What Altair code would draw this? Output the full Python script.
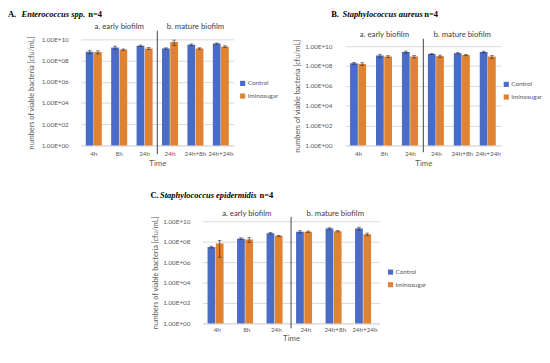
import altair as alt
import pandas as pd

categories = ["4h", "8h", "24h", "24h ", "24h+8h", "24h+24h"]
series = ["Control", "Iminosugar"]
phase_labels = ["a. early biofilm", "b. mature biofilm"]
phase_anchor = ["8h", "24h+8h"]
colors = ["#4A6BC6", "#DF8231"]

a_control = [6.8e8, 1.7e9, 2.5e9, 1.4e9, 3.2e9, 4.0e9]
a_control_sd = [2.5e8, 6e8, 4e8, 2e8, 5e8, 6e8]
a_imino = [6.3e8, 1.1e9, 1.4e9, 5.6e9, 1.4e9, 2.1e9]
a_imino_sd = [2e8, 1.5e8, 3e8, 3e9, 2e8, 4e8]

b_control = [1.9e8, 1.15e9, 2.6e9, 1.65e9, 1.95e9, 2.6e9]
b_control_sd = [4e7, 4e8, 6e8, 2e8, 3e8, 5e8]
b_imino = [1.65e8, 9.1e8, 9.1e8, 1.0e9, 1.3e9, 9.1e8]
b_imino_sd = [5e7, 2e8, 2.5e8, 2.5e8, 2e8, 3e8]

c_control = [3.0e7, 2.0e8, 6.8e8, 9.5e8, 2.0e9, 2.0e9]
c_control_sd = [6e6, 4e7, 1.3e8, 2.5e8, 3e8, 6e8]
c_imino = [6.8e7, 1.65e8, 3.8e8, 9.5e8, 1.07e9, 5.4e8]
c_imino_sd = [6.5e7, 8e7, 4e7, 1.5e8, 1.5e8, 1.6e8]

tick_values = [1, 1e2, 1e4, 1e6, 1e8, 1e10]
y_title = "numbers of viable bacteria [cfu/mL]"
x_title = "Time"

SANS = "Lato"
SERIF = "Liberation Serif"
GREY = "#595959"

LABEL_EXPR = ("'1.00E+' + (round(log(datum.value)/LN10) < 10 ? '0' : '') + "
              "round(log(datum.value)/LN10)")


def panel(ctrl, ctrl_sd, imi, imi_sd, p):
    rows = []
    for s, vals, sds in [(series[0], ctrl, ctrl_sd), (series[1], imi, imi_sd)]:
        for c, v, sd in zip(categories, vals, sds):
            rows.append({"cat": c, "series": s, "value": v, "low": v - sd,
                         "high": v + sd, "base": 1})
    df = pd.DataFrame(rows)
    W, H = p["w"], p["h"]

    xscale = alt.Scale(paddingInner=p["pi"], paddingOuter=p["po"])
    xaxis = alt.Axis(labelAngle=0, ticks=False, tickSize=0, domain=True,
                     domainColor="#d9d9d9", labelFont=SANS, labelFontSize=6.5,
                     labelColor=GREY, labelPadding=p["xlp"], titleFont=SANS,
                     titleFontSize=8, titleFontWeight="normal", titleColor=GREY,
                     titlePadding=p["xtp"], grid=False)
    yscale = alt.Scale(type="log", domain=[1, 1e10], nice=False, range=p["yr"])
    yaxis = alt.Axis(values=tick_values, labelExpr=LABEL_EXPR, grid=True,
                     gridColor="#d9d9d9", domain=False, ticks=False, tickSize=0,
                     labelFont=SANS, labelFontSize=6.5, labelColor=GREY,
                     labelPadding=p["ylp"], titleFont=SANS, titleFontSize=7.5,
                     titleFontWeight="normal", titleColor=GREY, titleX=p["ytx"],
                     titleY=(p["yr"][0] + p["yr"][1]) / 2, titleAnchor="middle",
                     titleBaseline="bottom")

    def X():
        return alt.X("cat:N", sort=categories, scale=xscale, axis=xaxis, title=x_title)

    def XO():
        return alt.XOffset("series:N", sort=series, scale=alt.Scale(paddingInner=0.06))

    def Y(f):
        return alt.Y(f, scale=yscale, axis=yaxis, title=y_title)

    base = alt.Chart(df)
    bars = base.mark_bar().encode(
        x=X(), xOffset=XO(), y=Y("value:Q"), y2="base:Q",
        color=alt.Color("series:N", scale=alt.Scale(domain=series, range=colors),
                        legend=alt.Legend(title=None, orient="none",
                                          legendX=p["lx"], legendY=p["ly"],
                                          symbolType="square", symbolSize=28,
                                          symbolStrokeWidth=0, labelFont=SANS,
                                          labelFontSize=6.5, labelColor=GREY,
                                          rowPadding=p["lrp"], labelOffset=2)))
    err = base.mark_rule(color="#333333", strokeWidth=0.8).encode(
        x=X(), xOffset=XO(), y=Y("low:Q"), y2="high:Q")
    cap_lo = base.mark_tick(color="#333333", thickness=0.8, size=4).encode(
        x=X(), xOffset=XO(), y=Y("low:Q"))
    cap_hi = base.mark_tick(color="#333333", thickness=0.8, size=4).encode(
        x=X(), xOffset=XO(), y=Y("high:Q"))

    hdr_df = pd.DataFrame({"cat": phase_anchor, "label": phase_labels})
    headers = alt.Chart(hdr_df).mark_text(font=SANS, fontSize=8, color="#404040",
                                          baseline="middle").encode(
        x=X(), y=alt.value(p["hy"]), text="label:N")

    one = pd.DataFrame({"d": [0]})
    divider = alt.Chart(one).mark_rule(color="#404040", strokeWidth=1).encode(
        x=alt.value(W / 2), y=alt.value(p["dy1"]), y2=alt.value(p["dy2"]))

    t = p["title"]
    tl = []
    for txt, xx, style in [(t[0], p["tx"][0], "normal"), (t[1], p["tx"][1], "italic"),
                           (t[2], p["tx"][2], "normal")]:
        tl.append(alt.Chart(one).mark_text(
            font=SERIF, fontSize=8.7, fontWeight="bold", fontStyle=style,
            align="left", baseline="middle", color="#000000").encode(
            x=alt.value(xx), y=alt.value(p["ty"]), text=alt.value(txt)))

    return alt.layer(bars, err, cap_lo, cap_hi, headers, divider, *tl).properties(
        width=W, height=H)


pa = dict(w=157, h=109, yr=[109, 0], pi=0.37, po=0.19, xlp=5, xtp=3, ylp=13, ytx=-46.7,
          lx=163, ly=42, lrp=6, hy=-13, dy1=-9, dy2=118, ty=-26,
          title=["A.", "Enterococcus spp.", "n=4"], tx=[-75, -61, 7.5])
pb = dict(w=160, h=109, yr=[109, 7], pi=0.35, po=0.175, xlp=5, xtp=3, ylp=14, ytx=-45.5,
          lx=162, ly=43, lrp=6, hy=-4.7, dy1=-0.7, dy2=116, ty=-26,
          title=["B.", "Staphylococcus aureus", "n=4"], tx=[-14.7, -3, 81])
pc = dict(w=182, h=105, yr=[105, 0], pi=0.34, po=0.17, xlp=3, xtp=2, ylp=13, ytx=-44.5,
          lx=190, ly=49, lrp=6, hy=-7.7, dy1=-4.3, dy2=110, ty=-27,
          title=["C.", "Staphylococcus epidermidis", "n=4"], tx=[-53.5, -43.8, 58.5])

A = panel(a_control, a_control_sd, a_imino, a_imino_sd, pa)
B = panel(b_control, b_control_sd, b_imino, b_imino_sd, pb)
C = panel(c_control, c_control_sd, c_imino, c_imino_sd, pc)

spacer = alt.Chart(pd.DataFrame({"d": [0]})).mark_point(size=0, opacity=0).encode(
    x=alt.value(0), y=alt.value(0)).properties(width=1, height=1)

top = alt.hconcat(A, B, spacing=15).resolve_scale(color="independent").resolve_legend(
    color="independent")
bottom = alt.hconcat(spacer, C, spacing=70).resolve_scale(color="independent").resolve_legend(
    color="independent")
chart = alt.vconcat(top, bottom, spacing=24).resolve_scale(
    color="independent").resolve_legend(color="independent").properties(
    padding={"left": 0, "top": -2.5, "right": 0, "bottom": 0}).configure_view(stroke=None)

chart.save("out.html", embed_options={"renderer": "svg", "actions": False})
